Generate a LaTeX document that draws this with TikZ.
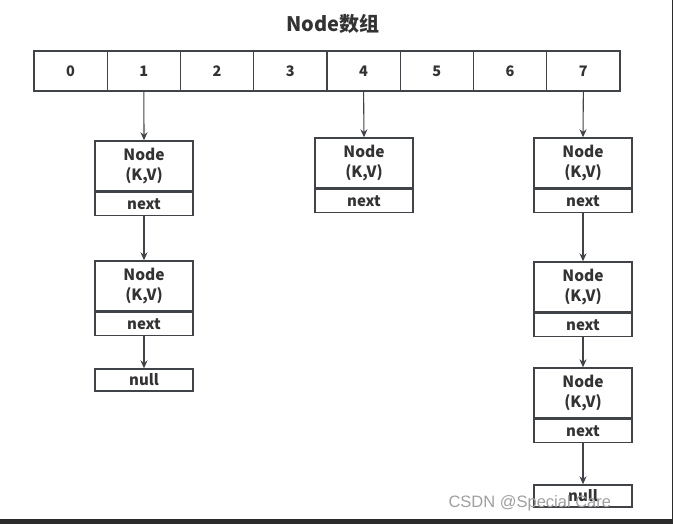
\documentclass[tikz,border=0pt]{standalone}
\usepackage{fontspec}
\setmainfont{Noto Sans CJK SC}
\newfontfamily\wmfont{Liberation Sans}
\usepackage{tikz}
\usetikzlibrary{positioning}
\usetikzlibrary{arrows.meta}
\definecolor{linegray}{HTML}{404448}
\definecolor{textgray}{HTML}{333333}
\definecolor{bargray}{HTML}{2B2B2B}

\tikzset{
	cell/.style={draw=linegray, line width=1.4pt, minimum width=73.25pt, minimum height=40pt,
		inner sep=0pt, font=\bfseries\fontsize{14.5}{15}\selectfont, text=textgray},
	entry/.style={draw=linegray, line width=1.4pt, minimum width=98pt, minimum height=50pt,
		inner sep=0pt, align=center, font=\bfseries\fontsize{15.5}{19.5}\selectfont, text=textgray},
	nextbox/.style={draw=linegray, line width=1.4pt, minimum width=98pt, minimum height=23pt,
		inner sep=0pt, font=\bfseries\fontsize{15}{15}\selectfont, text=textgray},
	nullbox/.style={nextbox, minimum height=22pt},
	link/.style={draw=linegray, line width=1.1pt, -{Stealth[length=8pt,width=7pt]}}
}

\begin{document}
\begin{tikzpicture}[x=1pt, y=-1pt]
	\useasboundingbox (0,0) rectangle (673,524);
	% title
	\node[font=\bfseries\fontsize{20}{21}\selectfont, text=textgray] (title) at (333,24) {Node数组};
	% array
	\foreach \i in {0,...,7}
		\node[cell] (c\i) at (70.6+73.25*\i,71) {\i};
	% chain at 1
	\node[entry] (e1a) at (144,166) {Node\\(K,V)};
	\node[nextbox, below=0pt of e1a] (x1a) {next};
	\node[entry] (e1b) at (144,286) {Node\\(K,V)};
	\node[nextbox, below=0pt of e1b] (x1b) {next};
	\node[nullbox] (z1) at (144,380) {null};
	% chain at 4
	\node[entry] (e4a) at (364,163) {Node\\(K,V)};
	\node[nextbox, below=0pt of e4a] (x4a) {next};
	% chain at 7
	\node[entry] (e7a) at (583,163) {Node\\(K,V)};
	\node[nextbox, below=0pt of e7a] (x7a) {next};
	\node[entry] (e7b) at (583,287) {Node\\(K,V)};
	\node[nextbox, below=0pt of e7b] (x7b) {next};
	\node[entry] (e7c) at (583,393) {Node\\(K,V)};
	\node[nextbox, below=0pt of e7c] (x7c) {next};
	\node[nullbox] (z7) at (583,496) {null};
	% links
	\draw[link] (c1.south) -- (e1a.north);
	\draw[link] (x1a.south) -- (e1b.north);
	\draw[link] (x1b.south) -- (z1.north);
	\draw[link] (c4.south) -- (e4a.north);
	\draw[link] (c7.south) -- (e7a.north);
	\draw[link] (x7a.south) -- (e7b.north);
	\draw[link] (x7b.south) -- (e7c.north);
	\draw[link] (x7c.south) -- (z7.north);
	% screen edges
	\fill[bargray] (0,519) rectangle (673,524);
	\draw[bargray, line width=1pt] (672,0) -- (672,519);
	\node[font=\wmfont\fontsize{16.5}{17}\selectfont, text=gray!75, anchor=west] (mark) at (445,503) {CSDN @Special Care};
\end{tikzpicture}
\end{document}
